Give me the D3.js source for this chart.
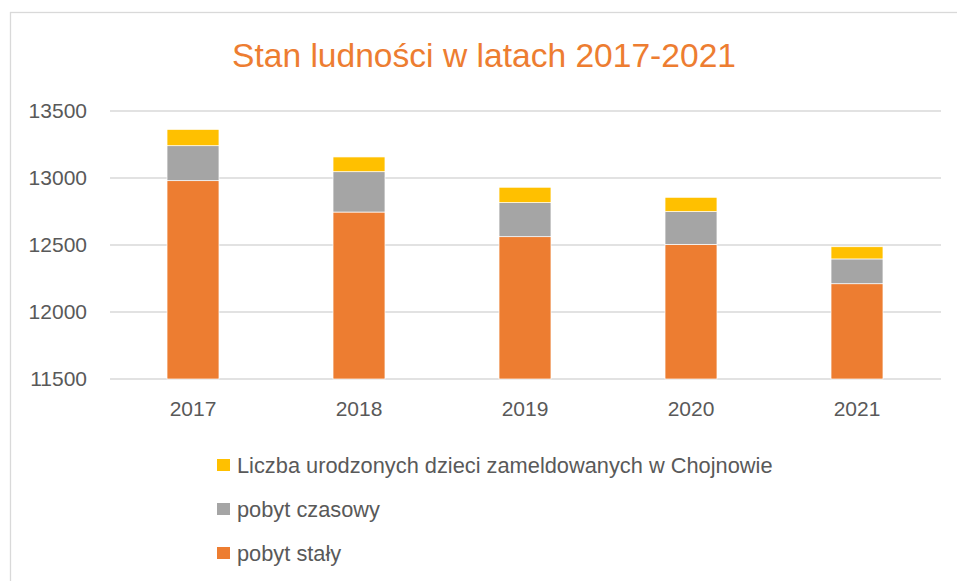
<!DOCTYPE html>
<html>
  <head>
    <meta charset="utf-8" />
    <script src="https://cdn.jsdelivr.net/npm/d3@7"></script>
    <style>
      body {
        margin: 0;
        background: #ffffff;
      }
      svg text {
        font-family: "Liberation Sans", Arial, sans-serif;
        fill: #595959;
      }
    </style>
  </head>
  <body>
    <svg id="chart" width="957" height="581"></svg>

    <script>
      // dane z wykresu
      const years = ["2017", "2018", "2019", "2020", "2021"];
      const pobytStaly = [12980, 12746, 12562, 12505, 12211];
      const pobytCzasowy = [261, 301, 254, 244, 185];
      const urodzenia = [122, 110, 115, 107, 91];
      const yTicks = [11500, 12000, 12500, 13000, 13500];

      const seriesNames = [
        "pobyt stały",
        "pobyt czasowy",
        "Liczba urodzonych dzieci zameldowanych w Chojnowie",
      ];
      const colors = ["#ED7D31", "#A5A5A5", "#FFC000"];

      const rows = years.map((y, i) => ({
        year: y,
        s0: pobytStaly[i],
        s1: pobytCzasowy[i],
        s2: urodzenia[i],
      }));

      const svg = d3.select("#chart");

      // ramka wykresu (wychodzi poza obraz z prawej i z dołu)
      svg
        .append("rect")
        .attr("x", 10.5)
        .attr("y", 12.5)
        .attr("width", 1000)
        .attr("height", 1000)
        .attr("fill", "none")
        .attr("stroke", "#d9d9d9")
        .attr("stroke-width", 1.3);

      svg
        .append("text")
        .attr("x", 484)
        .attr("y", 67)
        .attr("text-anchor", "middle")
        .style("font-size", "33.6px")
        .style("fill", "#ED7D31")
        .text("Stan ludności w latach 2017-2021");

      const x = d3.scaleBand().domain(years).range([110, 940]).padding(0);
      const y = d3.scaleLinear().domain([11500, 13500]).range([379, 111]);

      // siatka
      svg
        .append("g")
        .selectAll("line")
        .data(yTicks)
        .join("line")
        .attr("x1", 110)
        .attr("x2", 941)
        .attr("y1", (d) => y(d))
        .attr("y2", (d) => y(d))
        .attr("stroke", "#d9d9d9")
        .attr("stroke-width", 1.5);

      // oś Y
      const yAxis = svg
        .append("g")
        .attr("transform", "translate(98,0)")
        .call(d3.axisLeft(y).tickValues(yTicks).tickSize(0).tickPadding(11).tickFormat(d3.format("d")));
      yAxis.select(".domain").remove();
      yAxis.selectAll("text").style("font-size", "21px");

      // oś X
      const xAxis = svg
        .append("g")
        .attr("transform", "translate(0,379)")
        .call(d3.axisBottom(x).tickSize(0).tickPadding(22));
      xAxis.select(".domain").remove();
      xAxis.selectAll("text").style("font-size", "21px");

      // słupki
      const stack = d3.stack().keys(["s0", "s1", "s2"]);
      const stacked = stack(rows);
      const barW = x.bandwidth() * 0.313;

      svg
        .append("g")
        .selectAll("g")
        .data(stacked)
        .join("g")
        .attr("fill", (d, i) => colors[i])
        .selectAll("rect")
        .data((d) => d)
        .join("rect")
        .attr("x", (d) => x(d.data.year) + (x.bandwidth() - barW) / 2)
        .attr("y", (d) => y(d[1]))
        .attr("width", barW)
        .attr("height", (d) => y(Math.max(d[0], 11500)) - y(d[1]))
        .attr("stroke", "#ffffff")
        .attr("stroke-width", 0.7);

      // legenda (odwrotna kolejność)
      const legendOrder = [2, 1, 0];
      const legend = svg
        .append("g")
        .selectAll("g")
        .data(legendOrder)
        .join("g")
        .attr("transform", (d, i) => `translate(217,${465 + i * 44})`);

      legend
        .append("rect")
        .attr("x", 0)
        .attr("y", -6)
        .attr("width", 13)
        .attr("height", 12)
        .attr("fill", (d) => colors[d]);

      legend
        .append("text")
        .attr("x", 20)
        .attr("y", 0)
        .attr("dy", "0.35em")
        .style("font-size", "21.8px")
        .text((d) => seriesNames[d]);
    </script>
  </body>
</html>
